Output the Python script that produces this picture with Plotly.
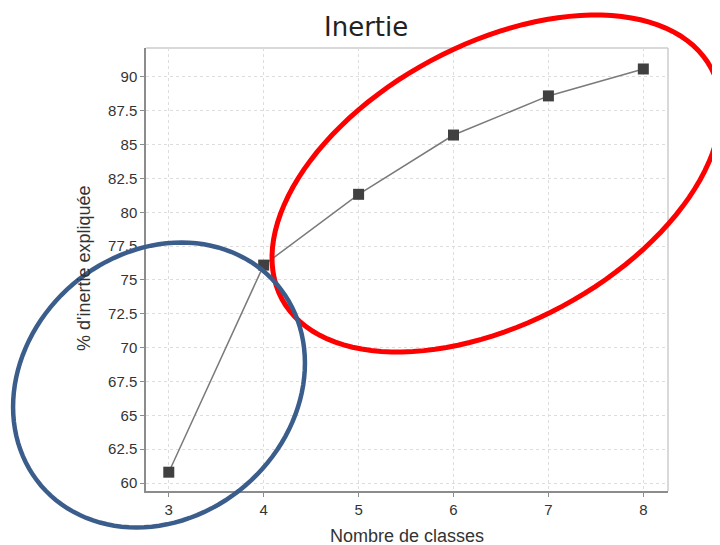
import numpy as np
import plotly.graph_objects as go

# ---- data ----
n_classes = [3, 4, 5, 6, 7, 8]
inertie_pct = [60.8, 76.1, 81.33, 85.71, 88.6, 90.59]
y_ticks = [60, 62.5, 65, 67.5, 70, 72.5, 75, 77.5, 80, 82.5, 85, 87.5, 90]
y_tick_labels = ["60", "62.5", "65", "67.5", "70", "72.5", "75", "77.5", "80", "82.5", "85", "87.5", "90"]
x_ticks = [3, 4, 5, 6, 7, 8]

OFF = 8  # page body margin
W, H = 720 - OFF, 545 - OFF
# plot area in screen pixels: x 146..668, y 48..491
L, R, T, B = 146 - OFF, W - (668 - OFF), 48 - OFF, H - (491 - OFF)
PW, PH = W - L - R, H - T - B


def px2paper(X, Y):
    return (X - OFF - L) / PW, (H - B - (Y - OFF)) / PH


def ellipse_path(cx, cy, a, b, theta_deg, n=120):
    th = np.radians(theta_deg)
    t = np.linspace(0, 2 * np.pi, n, endpoint=False)
    ex = a * np.cos(t)
    ey = b * np.sin(t)
    X = cx + ex * np.cos(th) - ey * np.sin(th)
    Y = cy - (ex * np.sin(th) + ey * np.cos(th))
    pts = [px2paper(x, y) for x, y in zip(X, Y)]
    return "M " + " L ".join(f"{p[0]:.5f},{p[1]:.5f}" for p in pts) + " Z"


fig = go.Figure()
fig.add_trace(go.Scatter(
    x=n_classes, y=inertie_pct, mode="lines+markers",
    line=dict(color="#7a7a7a", width=1.5),
    marker=dict(symbol="square", size=11, color="#404040"),
    showlegend=False, cliponaxis=False,
))

axis_font = dict(family="Liberation Sans, Arial, sans-serif", size=15, color="#333333")
fig.update_layout(
    width=W, height=H,
    margin=dict(l=L, r=R, t=T, b=B, pad=0),
    paper_bgcolor="white", plot_bgcolor="white",
    xaxis=dict(range=[2.76, 8.26], tickvals=x_ticks, showgrid=True,
               gridcolor="#dddddd", griddash="3px,3px", gridwidth=1,
               showline=True, linecolor="#8c8c8c", linewidth=1.5,
               ticks="outside", ticklen=4, tickcolor="#8c8c8c",
               tickfont=axis_font, zeroline=False),
    yaxis=dict(range=[59.41, 92.14], tickvals=y_ticks, ticktext=y_tick_labels,
               showgrid=True, gridcolor="#dddddd", griddash="3px,3px", gridwidth=1,
               showline=True, linecolor="#8c8c8c", linewidth=1.5,
               ticks="outside", ticklen=4, tickcolor="#8c8c8c",
               tickfont=axis_font, zeroline=False),
)

shapes = [
    dict(type="line", xref="paper", yref="paper", x0=0, x1=1, y0=1, y1=1,
         line=dict(color="#cccccc", width=1.5), layer="below"),
    dict(type="line", xref="paper", yref="paper", x0=1, x1=1, y0=0, y1=1,
         line=dict(color="#cccccc", width=1.5), layer="below"),
    dict(type="path", xref="paper", yref="paper",
         path=ellipse_path(496.5, 183.5, 243.7, 139.3, 28.3),
         line=dict(color="#ff0000", width=5), layer="above"),
    dict(type="path", xref="paper", yref="paper",
         path=ellipse_path(159, 385, 155, 132.5, 40.5),
         line=dict(color="#3a5d8c", width=4.5), layer="above"),
]
fig.update_layout(shapes=shapes)

tx, ty = px2paper(366, 27)
xtx, xty = px2paper(407, 536)
ytx, yty = px2paper(84, 268)
fig.update_layout(annotations=[
    dict(text="Inertie", xref="paper", yref="paper", x=tx, y=ty, showarrow=False,
         xanchor="center", yanchor="middle",
         font=dict(family="DejaVu Sans, sans-serif", size=26, color="#222222")),
    dict(text="Nombre de classes", xref="paper", yref="paper", x=xtx, y=xty, showarrow=False,
         xanchor="center", yanchor="middle",
         font=dict(family="Liberation Sans, Arial, sans-serif", size=18, color="#333333")),
    dict(text="% d'inertie expliquée", xref="paper", yref="paper", x=ytx, y=yty, showarrow=False,
         xanchor="center", yanchor="middle", textangle=-90,
         font=dict(family="Liberation Sans, Arial, sans-serif", size=18, color="#333333")),
])

fig.write_html("out.html")
